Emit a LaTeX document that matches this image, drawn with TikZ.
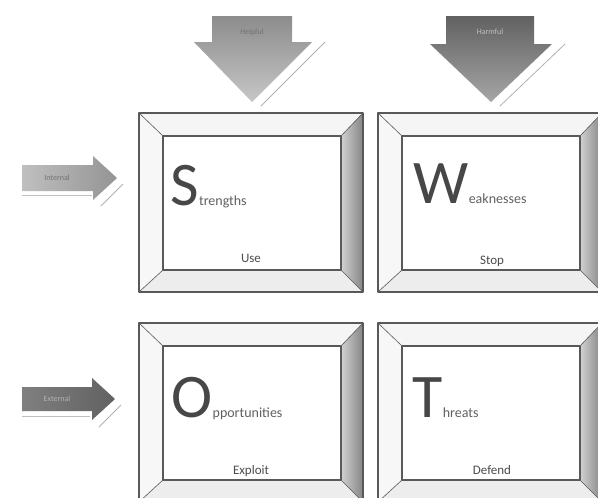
\documentclass[tikz,border=0pt]{standalone}
\usepackage{fontspec}
\setmainfont{Carlito}
\begin{document}
\begin{tikzpicture}[x=1pt,y=-1pt,
  frameline/.style={draw=black!65,line width=1.1pt,line join=round},
  bevlight/.style={fill=black!4},
  bevleft/.style={fill=black!3},
  bevbottom/.style={fill=black!7},
  bevright/.style={left color=black!18,right color=black!48},
  bigletter/.style={font=\fontsize{62}{62}\selectfont,text=black!72,inner sep=0pt},
  wordtext/.style={font=\fontsize{14}{14}\selectfont,text=black!62,inner sep=0pt},
  actiontext/.style={font=\fontsize{13}{13}\selectfont,text=black!70,inner sep=0pt},
  arrowlabel/.style={font=\fontsize{8}{8}\selectfont,inner sep=0pt},
  gloss/.style={draw=black!30,line width=0.8pt},
  glosswhite/.style={draw=white,line width=1.2pt}]

\useasboundingbox (0,0) rectangle (598,498);
\fill[white] (0,0) rectangle (598,498);
\clip (0,0) rectangle (598,498);

% bevelled frame: name, left, top, right, bottom
\newcommand\bevelbox[5]{%
  \path (#2,#3) coordinate (#1-tl) (#4,#3) coordinate (#1-tr)
        (#4,#5) coordinate (#1-br) (#2,#5) coordinate (#1-bl)
        (#2+24,#3+23) coordinate (#1-itl) (#4-22,#3+23) coordinate (#1-itr)
        (#4-22,#5-22) coordinate (#1-ibr) (#2+24,#5-22) coordinate (#1-ibl);
  \fill[bevlight]  (#1-tl) -- (#1-tr) -- (#1-itr) -- (#1-itl) -- cycle;
  \fill[bevleft]   (#1-tl) -- (#1-itl) -- (#1-ibl) -- (#1-bl) -- cycle;
  \fill[bevbottom] (#1-bl) -- (#1-ibl) -- (#1-ibr) -- (#1-br) -- cycle;
  \shade[bevright] (#1-tr) -- (#1-br) -- (#1-ibr) -- (#1-itr) -- cycle;
  \fill[white] (#1-itl) rectangle (#1-ibr);
  \draw[frameline] (#1-tl) rectangle (#1-br);
  \draw[frameline] (#1-itl) rectangle (#1-ibr);
  \draw[frameline,line width=0.6pt] (#1-tl) -- (#1-itl) (#1-tr) -- (#1-itr)
        (#1-br) -- (#1-ibr) (#1-bl) -- (#1-ibl);
}

\bevelbox{S}{139}{113}{363}{292}
\bevelbox{W}{378}{113}{602}{292}
\bevelbox{O}{139}{323}{363}{502}
\bevelbox{T}{378}{323}{602}{502}

% quadrant texts
\node[bigletter,anchor=base west] (sL) at (170,205) {S};
\node[wordtext,anchor=base west] (sW) at (sL.base east) {trengths};
\node[actiontext,anchor=base] (sA) at (251,262) {Use};

\node[bigletter,anchor=base west] (wL) at (413,203) {W};
\node[wordtext,anchor=base west] (wW) at (wL.base east) {eaknesses};
\node[actiontext,anchor=base] (wA) at (492,264) {Stop};

\node[bigletter,anchor=base west] (oL) at (171,417) {O};
\node[wordtext,anchor=base west] (oW) at (oL.base east) {pportunities};
\node[actiontext,anchor=base] (oA) at (251,474) {Exploit};

\node[bigletter,anchor=base west] (tL) at (412,417) {T};
\node[wordtext,anchor=base west] (tW) at (tL.base east) {hreats};
\node[actiontext,anchor=base] (tA) at (492,474) {Defend};

% column arrows (pointing down)
\shade[top color=black!45,bottom color=black!22]
  (212,16) -- (292,16) -- (292,42) -- (312,42) -- (252,102) -- (194,42) -- (212,42) -- cycle;
\draw[glosswhite] (322,40) -- (258,104);
\draw[gloss] (325,42) -- (261,106);
\node[arrowlabel,text=black!55] (helpful) at (252,32) {Helpful};

\shade[top color=black!62,bottom color=black!35]
  (446,16) -- (534,16) -- (534,44) -- (552,44) -- (491,102) -- (430,44) -- (446,44) -- cycle;
\draw[glosswhite] (562,42) -- (497,104);
\draw[gloss] (565,44) -- (500,106);
\node[arrowlabel,text=black!25] (harmful) at (490,32) {Harmful};

% row arrows (pointing right)
\shade[left color=black!25,right color=black!42]
  (22,165) -- (93,165) -- (93,156) -- (117,178) -- (93,200) -- (93,191) -- (22,191) -- cycle;
\draw[glosswhite] (121,181) -- (99,203);
\draw[gloss] (123,184) -- (101,206);
\draw[black!25,line width=0.8pt] (22,195) -- (92,195);
\node[arrowlabel,text=black!55] (internal) at (57,178) {Internal};

\shade[left color=black!50,right color=black!62]
  (22,387) -- (92,387) -- (92,378) -- (115,399) -- (92,420) -- (92,411) -- (22,411) -- cycle;
\draw[glosswhite] (119,402) -- (97,424);
\draw[gloss] (121,405) -- (99,427);
\draw[black!25,line width=0.8pt] (22,416) -- (90,416);
\node[arrowlabel,text=black!30] (external) at (57,399) {External};

\end{tikzpicture}
\end{document}
